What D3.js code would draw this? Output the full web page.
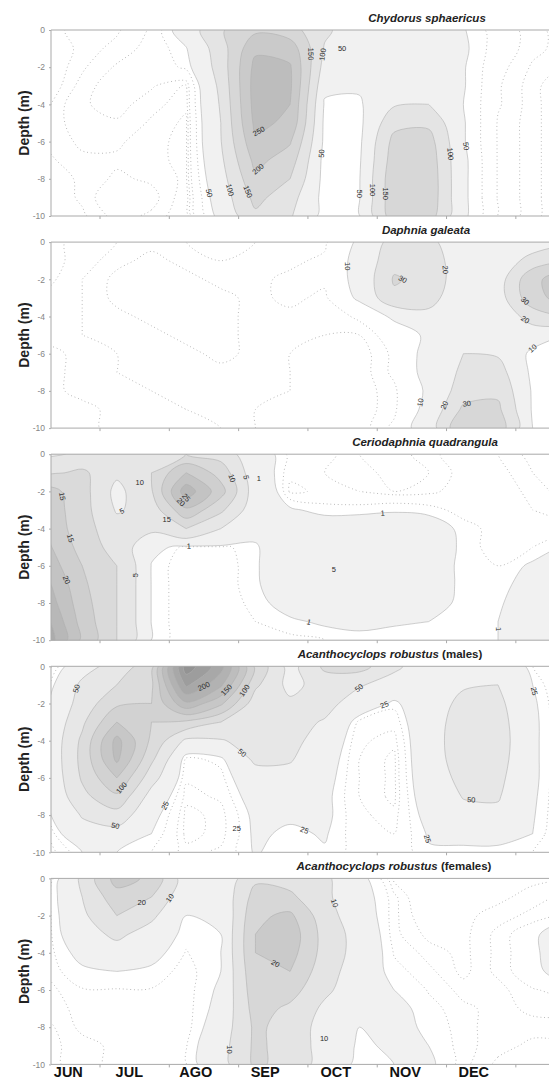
<!DOCTYPE html>
<html>
<head>
<meta charset="utf-8">
<script src="https://cdn.jsdelivr.net/npm/d3@7/dist/d3.min.js"></script>
<style>
  body { margin: 0; background: #fff; }
  svg { display: block; }
  text { font-family: "Liberation Sans", Arial, sans-serif; }
</style>
</head>
<body>
<svg id="chart" width="549" height="1080"></svg>
<script>
// ---------- data ----------
const speciesNames = ['Chydorus sphaericus', 'Daphnia galeata', 'Ceriodaphnia quadrangula',
                      'Acanthocyclops robustus', 'Acanthocyclops robustus'];
const speciesNotes = ['', '', '', ' (males)', ' (females)'];
const months = ['JUN', 'JUL', 'AGO', 'SEP', 'OCT', 'NOV', 'DEC'];
const monthLabelPos = [0.55, 1.43, 2.39, 3.39, 4.41, 5.41, 6.4];   // label centres, in months since 1 Jun
const monthTicks = [1, 2, 3, 4, 5, 6, 7];
const depthTicks = [0, -2, -4, -6, -8, -10];

// sampling grid: columns every half month, rows every metre
const gridMonths = [0.25, 0.75, 1.25, 1.75, 2.25, 2.75, 3.25, 3.75, 4.25, 4.75, 5.25, 5.75, 6.25, 6.75, 7.25, 7.75];
const gridDepths = [0, 1, 2, 3, 4, 5, 6, 7, 8, 9, 10];

// densities (ind/L), one row per depth
const chydorus = [
  [8,10,12,20,70,145,190,170,110,65,60,60,52,25,15,10],
  [6,10,15,22,48,127,240,230,95,65,62,62,55,25,15,10],
  [5,12,20,25,38,121,265,255,80,60,60,58,52,22,12,8],
  [5,15,25,20,12,112,272,258,60,55,65,62,52,20,10,6],
  [8,18,22,15,10,105,270,250,45,45,95,100,50,20,10,6],
  [10,16,18,12,8,100,262,240,40,40,135,140,52,18,10,6],
  [10,14,14,10,8,98,240,205,40,42,165,170,52,18,10,6],
  [8,12,12,10,8,90,215,175,35,45,175,180,55,18,10,6],
  [6,10,14,12,8,80,190,150,35,48,185,185,55,18,10,6],
  [5,10,18,15,6,70,165,120,35,48,185,185,55,18,10,6],
  [5,8,15,12,5,60,140,105,35,48,180,175,55,18,10,6]
];
const daphnia = [
  [2,3,4,5,4,3,4,5,5,11,24,23,12,12,14,16],
  [2,3,5,6,5,4,4,5,6,12,27,26,13,13,24,30],
  [2,4,6,7,6,5,5,6,6,12,31,27,13,15,38,45],
  [3,4,6,7,7,6,5,6,5,11,28,24,12,15,37,44],
  [3,4,5,6,7,6,5,5,4,6,11,17,12,13,24,28],
  [3,4,5,5,6,6,5,4,4,4,7,11,12,13,15,10],
  [2,3,4,5,5,6,5,4,3,3,6,12,20,19,8,6],
  [2,3,4,4,5,5,5,4,3,3,6,12,22,24,8,5],
  [2,3,3,4,4,5,4,4,3,3,5,11,25,28,9,5],
  [2,2,3,3,4,4,4,3,3,3,5,12,32,32,9,5],
  [2,2,3,3,3,4,4,3,3,3,6,14,40,36,10,6]
];
const ceriodaphnia = [
  [4,6,7,8,10,8,1.5,0.6,0.5,0.35,0.3,0.4,0.55,0.45,0.3,0.25],
  [9,11,6,10,20,13,1.6,0.5,0.45,0.4,0.3,0.35,0.5,0.5,0.35,0.3],
  [17,12,3.5,9.5,28,17,2,0.4,0.5,0.45,0.35,0.4,0.55,0.55,0.4,0.3],
  [18,12,4.5,7,19,11,1.8,1.1,0.8,0.8,0.9,0.8,0.6,0.6,0.45,0.35],
  [19,12,7,6,10,5,1.3,1.6,1.5,1.6,1.7,1.5,0.8,0.6,0.5,0.5],
  [21,13,8,1.5,0.5,0.6,0.9,1.8,2.0,2.2,2.0,1.8,0.8,0.6,0.7,1.1],
  [23,15,10,0.9,0.5,0.5,0.9,1.8,2.2,2.6,2.2,1.7,0.75,0.7,1.1,1.5],
  [26,16,10,0.9,0.5,0.5,0.9,1.6,2.0,2.2,2.0,1.6,0.8,0.8,1.3,1.8],
  [28,17,10,0.9,0.5,0.5,0.8,1.3,1.6,1.7,1.6,1.4,0.8,0.9,1.5,2.0],
  [31,18,10,0.9,0.5,0.5,0.7,0.9,1.1,1.2,1.1,1.0,0.8,1.0,1.6,2.1],
  [33,19,10,0.9,0.5,0.5,0.6,0.6,0.7,0.8,0.7,0.7,0.7,1.0,1.6,2.2]
];
const acanthoMales = [
  [10,40,60,90,265,210,95,40,80,85,55,35,42,44,20,8],
  [18,55,75,95,230,180,80,42,62,52,40,38,48,50,25,10],
  [24,60,95,100,170,130,60,55,58,38,22,40,55,56,27,12],
  [27,70,125,100,95,75,55,58,48,18,16,40,60,60,28,12],
  [28,80,158,95,45,48,60,58,38,15,12,40,62,62,28,12],
  [28,82,155,80,18,22,55,52,33,14,10,40,60,60,28,12],
  [27,78,125,60,15,18,38,42,30,14,10,38,56,56,28,12],
  [26,68,95,40,12,15,32,35,28,14,10,35,51,52,27,12],
  [22,52,65,30,10,12,28,27,28,15,12,30,44,45,26,12],
  [15,40,40,25,10,12,27,23,26,16,14,26,30,30,25,11],
  [10,25,25,20,12,15,26,20,24,17,15,24,22,22,20,10]
];
const acanthoFemales = [
  [2,11,22,19,7,6,14,13,11,6,2,1,1.5,2,2,2],
  [3,10,18,15,6,6,17,16,11,6.5,3,1,1.5,2,2.5,3],
  [3,9,15,11,5,5,19,21,12,7,3,1.5,2,2.5,3,4],
  [3,8,11,8,4,5,20,23,13,8,3,2,2,3,4.6,6.5],
  [3,6,8,6,3.5,5,20,22,13,8,3.5,2.5,2,3,4.6,6.5],
  [3,4.5,5,4.5,3,5,19,20,12,7.5,4,3,2,3,4.5,6],
  [2.5,3.5,3.5,3.5,3,5.5,18,17,11,7,5,3.5,2.5,2.5,3.5,4],
  [2.5,3,3,3,3,6,17,14,9,6,6,4,3,2.5,3,3],
  [2,3,3,3,3,7,16,13,8,5,6,4.5,3,2.5,2.5,2.5],
  [2,2.5,3,3,3.5,8,16,13,8,4.5,5.5,5,3,2.5,2,2],
  [2,2.5,3,3,3.5,8,16,13,8,4,5,5.5,3,2,2,2]
];

// contour levels (filled) and the faint dotted levels under them
const chydorusLevels = [50, 100, 150, 200, 250];
const daphniaLevels = [10, 20, 30, 40];
const ceriodaphniaLevels = [1, 5, 10, 15, 20, 25, 30];
const malesLevels = [25, 50, 75, 100, 125, 150, 175, 200, 225, 250];
const femalesLevels = [5, 10, 15, 20];
const chydorusDots = [9, 13, 19, 35];
const daphniaDots = [2.5, 4, 5.5];
const ceriodaphniaDots = [0.35, 0.45, 0.7];
const malesDots = [11, 14, 20];
const femalesDots = [2.2, 2.8, 3.6];

// contour labels: [month, depth, level]
const chydorusLabels = [[4.5,1.0,50],[4.18,1.3,100],[3.92,1.3,150],[3.32,5.6,250],[3.27,7.4,200],
  [2.67,8.7,50],[2.88,8.6,100],[3.13,8.7,150],[4.08,6.6,50],[4.82,8.8,50],[5.0,8.6,100],
  [5.26,8.8,150],[5.96,6.7,100],[6.19,6.3,50]];
const daphniaLabels = [[4.72,1.3,10],[5.42,2.0,30],[5.96,1.5,20],[7.18,3.0,30],[7.17,4.0,20],
  [7.18,5.4,10],[5.73,8.7,10],[5.94,8.7,20],[6.3,8.7,30]];
const ceriodaphniaLabels = [[0.56,2.2,15],[1.58,1.5,10],[1.35,3.25,5],[2.23,2.4,25],[2.05,3.0,20],
  [1.97,3.5,15],[2.93,1.26,10],[3.1,1.26,5],[3.3,1.3,1],[0.59,4.5,15],[2.29,5.3,1],[0.56,6.7,20],
  [1.64,6.5,5],[4.38,6.2,5],[5.09,3.4,1],[3.98,9.6,1],[6.76,9.4,1]];
const malesLabels = [[0.57,1.1,50],[2.52,1.2,200],[2.84,1.3,150],[3.13,1.4,100],[4.73,1.1,50],
  [5.08,1.8,25],[7.2,1.4,25],[3.07,4.6,50],[1.4,6.8,100],[1.9,7.4,25],[1.22,8.7,50],[2.98,8.7,25],
  [3.99,8.5,25],[6.36,7.4,50],[5.71,9.3,25]];
const femalesLabels = [[1.61,1.3,20],[2.09,1.26,10],[4.34,1.4,10],[3.49,4.9,20],[2.87,9.2,10],[4.24,8.6,10]];

// ---------- layout ----------
const panels = [
  {grid: chydorus, levels: chydorusLevels, dots: chydorusDots, labels: chydorusLabels, titleX: 427, step: 13},
  {grid: daphnia, levels: daphniaLevels, dots: daphniaDots, labels: daphniaLabels, titleX: 426, step: 13},
  {grid: ceriodaphnia, levels: ceriodaphniaLevels, dots: ceriodaphniaDots, labels: ceriodaphniaLabels, titleX: 425, step: 11.5},
  {grid: acanthoMales, levels: malesLevels, dots: malesDots, labels: malesLabels, titleX: 390, step: 10.5},
  {grid: acanthoFemales, levels: femalesLevels, dots: femalesDots, labels: femalesLabels, titleX: 394, step: 13}
];
const plotLeft = 51, plotRight = 550;
const firstTop = 30, panelStep = 212.1, panelH = 186;

const svg = d3.select('#chart');
const x = d3.scaleLinear().domain([0.3, 7.5]).range([plotLeft, plotRight]);

const nx = gridMonths.length, ny = gridDepths.length;
const colStep = gridMonths[1] - gridMonths[0], rowStep = gridDepths[1] - gridDepths[0];
const contourGen = d3.contours().size([nx, ny]);
const smoothLine = d3.line().curve(d3.curveCatmullRomClosed.alpha(0.5));

function nearestOnRings(rings, px, py){
    let best = null;
    rings.forEach(r => {
        for (let i = 0; i < r.length - 1; i++){
            const a = r[i], b = r[i + 1];
            const dx = b[0] - a[0], dy = b[1] - a[1];
            const len2 = dx * dx + dy * dy || 1;
            let t = ((px - a[0]) * dx + (py - a[1]) * dy) / len2;
            t = Math.max(0, Math.min(1, t));
            const qx = a[0] + t * dx, qy = a[1] + t * dy;
            const d = Math.hypot(qx - px, qy - py);
            if (!best || d < best.d) best = {d, qx, qy, ang: Math.atan2(dy, dx) * 180 / Math.PI};
        }
    });
    return best;
}

panels.forEach((p, i) => {
    const top = firstTop + i * panelStep;
    const y = d3.scaleLinear().domain([0, -10]).range([top, top + panelH]);
    const toPx = ([u, v]) => [x(gridMonths[0] + (u - 0.5) * colStep),
                              y(-(gridDepths[0] + (v - 0.5) * rowStep))];
    const values = p.grid.flat();
    const ringsAt = t => contourGen.contour(values, t).coordinates
        .flatMap(poly => poly.map(r => r.map(toPx)));
    const pathFor = rings => rings.map(r => {
        const pts = r.slice();
        const f = pts[0], l = pts[pts.length - 1];
        if (pts.length > 1 && f[0] === l[0] && f[1] === l[1]) pts.pop();
        return smoothLine(pts);
    }).join('');

    const g = svg.append('g').attr('class', 'panel');
    g.append('clipPath').attr('id', 'clip' + i)
        .append('rect').attr('x', plotLeft).attr('y', top)
        .attr('width', 560 - plotLeft).attr('height', panelH);
    const plot = g.append('g').attr('clip-path', `url(#clip${i})`);

    // dotted low contours
    p.dots.forEach(t => {
        plot.append('path').attr('d', pathFor(ringsAt(t)))
            .attr('fill', 'none').attr('stroke', '#ababab')
            .attr('stroke-width', 0.9).attr('stroke-dasharray', '0.9 2.8');
    });

    // filled contours, light to dark
    const ringMap = new Map();
    p.levels.forEach((t, k) => {
        const rings = ringsAt(t);
        ringMap.set(t, rings);
        const v = Math.round(241 - p.step * k);
        plot.append('path').attr('d', pathFor(rings))
            .attr('fill', d3.rgb(v, v, v)).attr('fill-rule', 'evenodd')
            .attr('stroke', '#b0b0b0').attr('stroke-width', 0.6);
    });

    // contour labels, turned along their line
    p.labels.forEach(([m, dep, lv]) => {
        let px = x(m), py = y(-dep), ang = 0;
        const hit = nearestOnRings(ringMap.get(lv) || [], px, py);
        if (hit && hit.d < 12){
            px = hit.qx; py = hit.qy; ang = hit.ang;
            if (ang > 90) ang -= 180;
            if (ang < -90) ang += 180;
        }
        plot.append('text').attr('transform', `translate(${px},${py}) rotate(${ang})`)
            .attr('text-anchor', 'middle').attr('dominant-baseline', 'central')
            .attr('font-size', 7.5).attr('fill', '#2a2a2a').text(lv);
    });

    // frame
    const frame = g.append('g').attr('stroke', '#a9a9a9').attr('stroke-width', 1).attr('fill', 'none');
    frame.append('line').attr('x1', plotLeft).attr('x2', 549).attr('y1', top).attr('y2', top);
    frame.append('line').attr('x1', plotLeft).attr('x2', 549).attr('y1', top + panelH).attr('y2', top + panelH);
    frame.append('line').attr('x1', plotLeft).attr('x2', plotLeft).attr('y1', top).attr('y2', top + panelH);

    // y axis
    const yAxis = d3.axisLeft(y).tickValues(depthTicks).tickSize(2).tickPadding(4).tickFormat(d => String(d));
    const yg = g.append('g').attr('transform', `translate(${plotLeft},0)`).call(yAxis);
    yg.select('.domain').remove();
    yg.selectAll('line').attr('stroke', '#aaa');
    yg.selectAll('text').attr('fill', '#858585').attr('font-size', 8.5)
        .attr('font-family', '"Liberation Sans", Arial, sans-serif');

    // x ticks
    const xAxis = d3.axisBottom(x).tickValues(monthTicks).tickSize(3).tickFormat('');
    const xg = g.append('g').attr('transform', `translate(0,${top + panelH})`).call(xAxis);
    xg.select('.domain').remove();
    xg.selectAll('line').attr('stroke', '#aaa');

    // axis title
    g.append('text').attr('transform', `translate(24,${top + panelH / 2}) rotate(-90)`)
        .attr('text-anchor', 'middle').attr('dominant-baseline', 'central')
        .attr('font-size', 14).attr('font-weight', 'bold').attr('fill', '#222')
        .text('Depth (m)');

    // panel title
    const title = g.append('text').attr('x', p.titleX).attr('y', top - 8.5)
        .attr('text-anchor', 'middle').attr('font-size', 11.5).attr('font-weight', 'bold').attr('fill', '#222');
    title.append('tspan').attr('font-style', 'italic').text(speciesNames[i]);
    if (speciesNotes[i]) title.append('tspan').text(speciesNotes[i]);
});

// month labels under the last panel
svg.append('g').selectAll('text').data(months).join('text')
    .attr('x', (d, i) => x(monthLabelPos[i]))
    .attr('y', 1076.5)
    .attr('text-anchor', 'middle')
    .attr('font-size', 14.5).attr('font-weight', 'bold').attr('fill', '#111')
    .text(d => d);
</script>
</body>
</html>
